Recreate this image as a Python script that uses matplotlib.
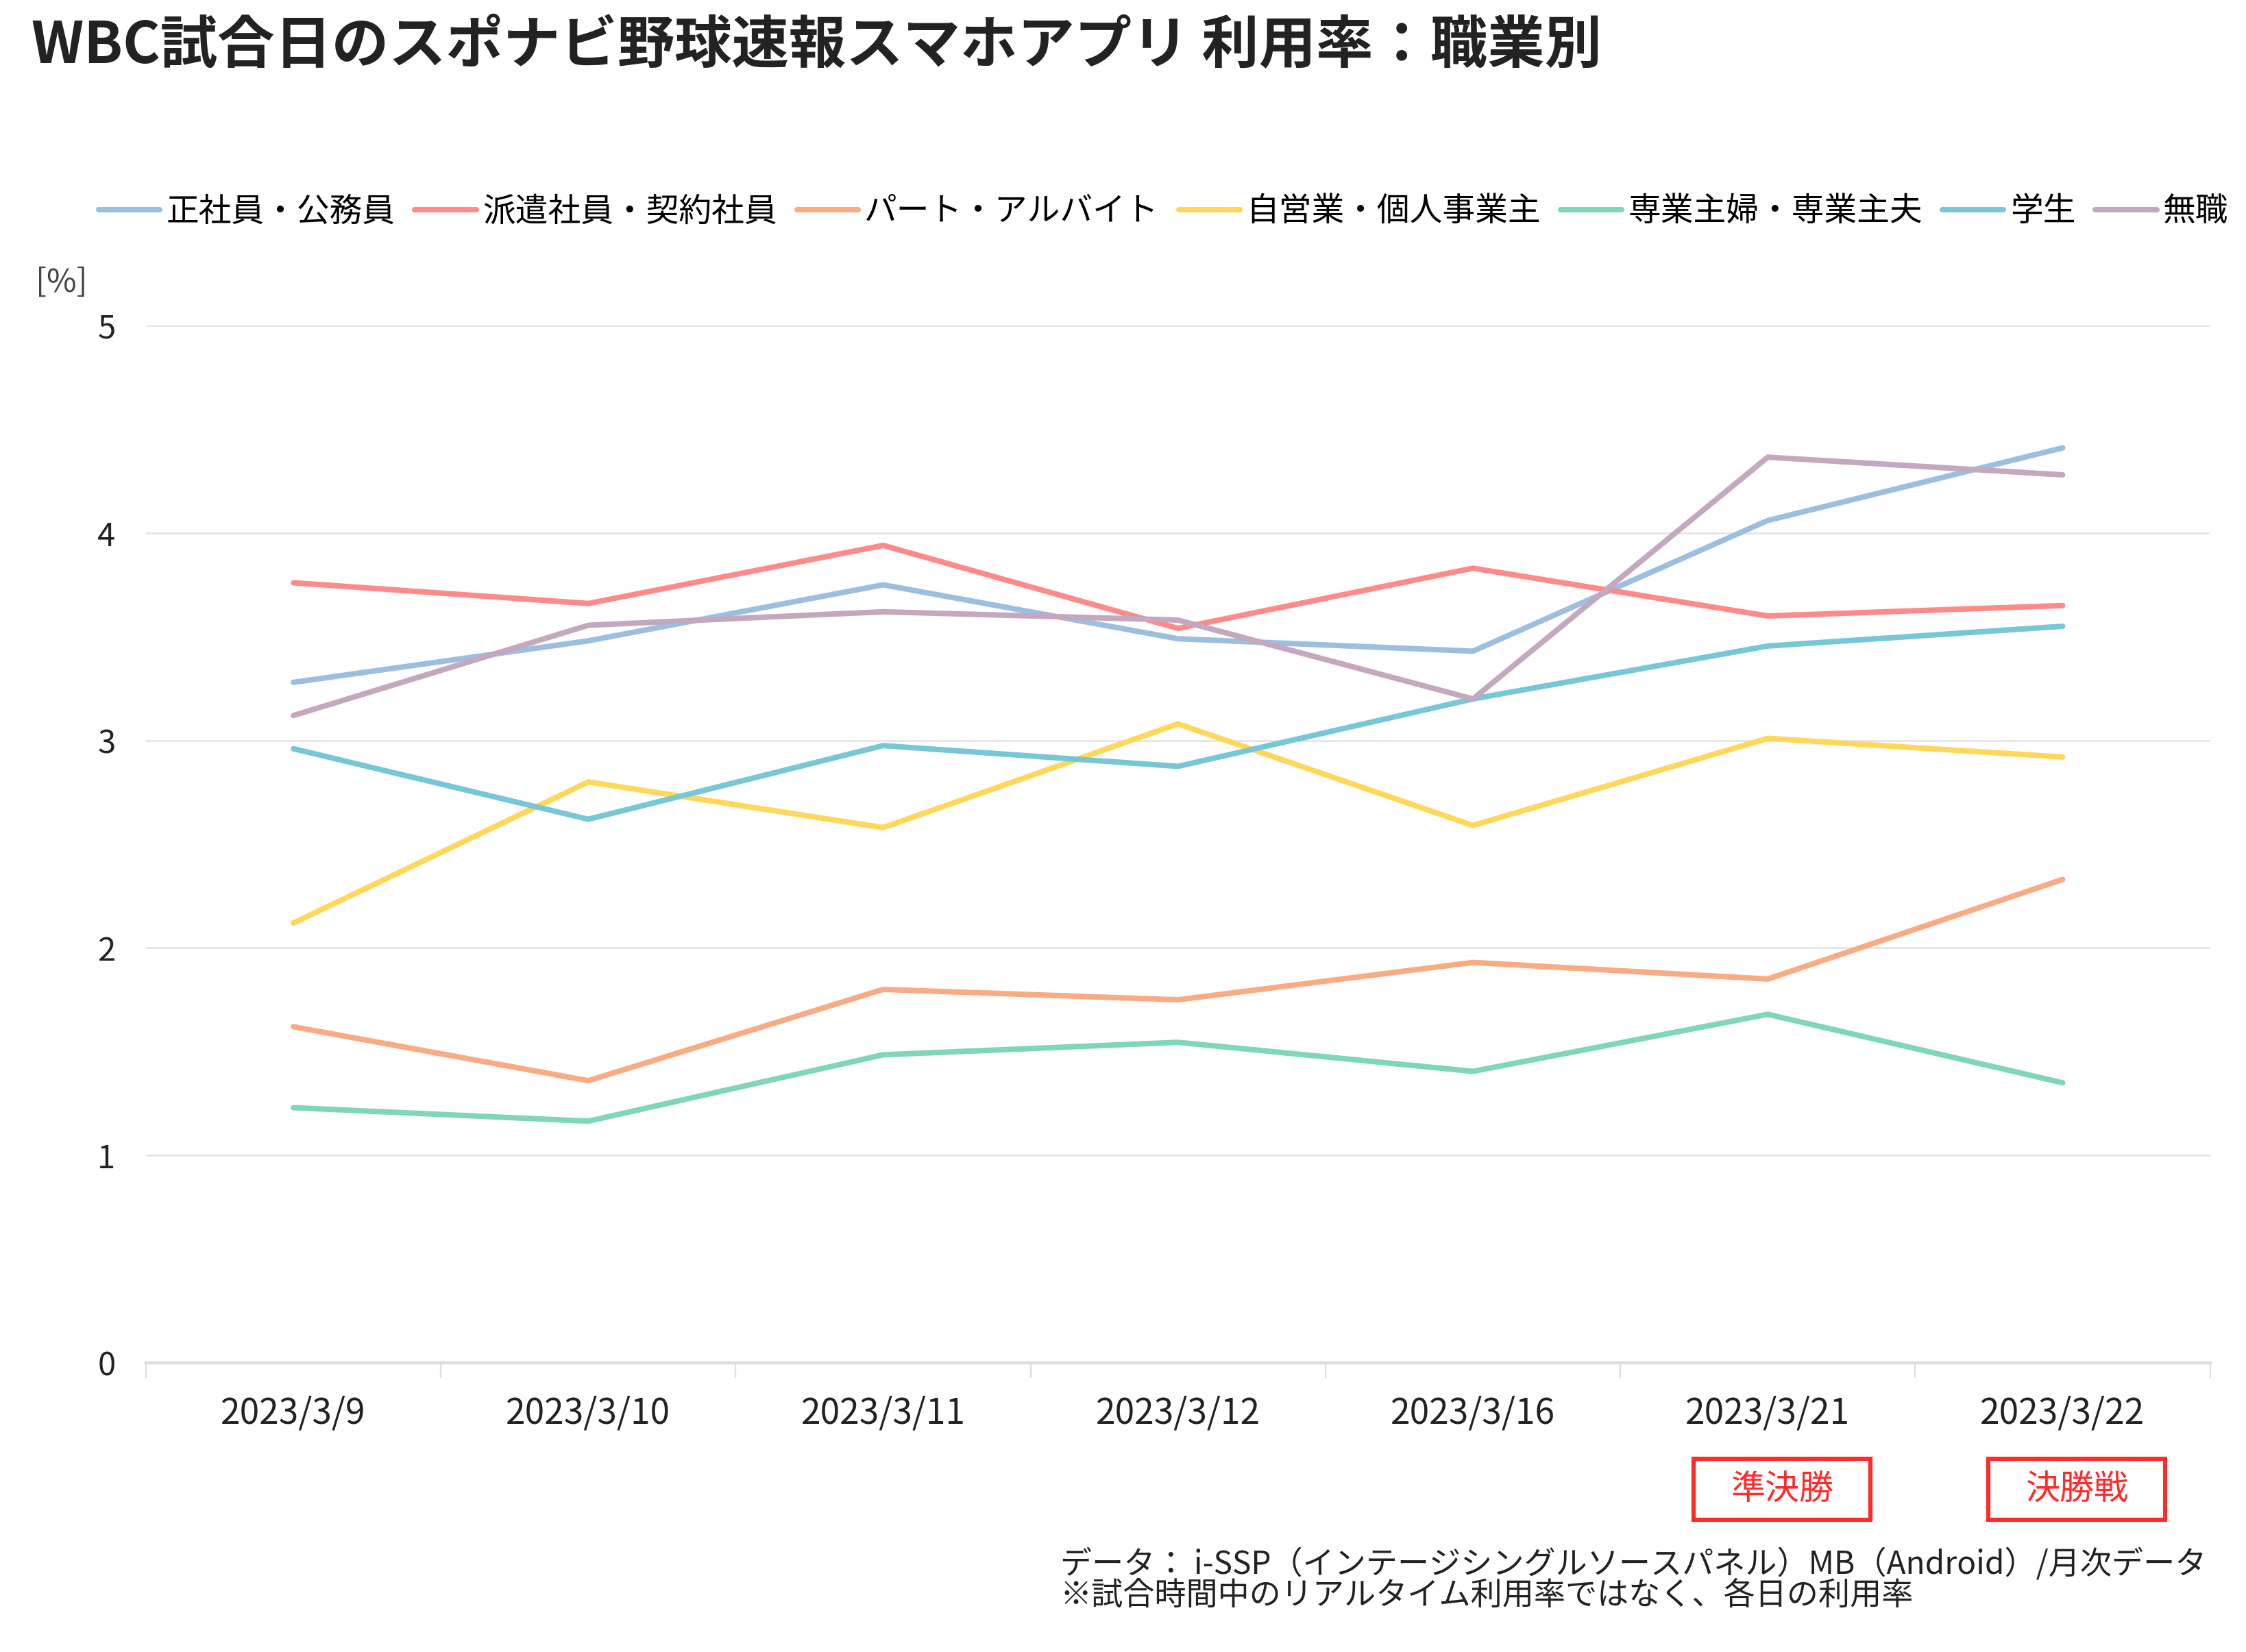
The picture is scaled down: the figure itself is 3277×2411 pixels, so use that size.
import matplotlib
matplotlib.use('Agg')
import matplotlib.pyplot as plt
from matplotlib.patches import Rectangle

plt.rcParams['font.family'] = ['Noto Sans CJK JP', 'DejaVu Sans']

# データ
fechas = ['2023/3/9', '2023/3/10', '2023/3/11', '2023/3/12', '2023/3/16', '2023/3/21', '2023/3/22']

seishain = [3.28, 3.48, 3.75, 3.49, 3.43, 4.06, 4.41]
haken = [3.76, 3.66, 3.94, 3.54, 3.83, 3.60, 3.65]
part = [1.62, 1.36, 1.80, 1.75, 1.93, 1.85, 2.33]
jieigyo = [2.12, 2.80, 2.58, 3.08, 2.59, 3.01, 2.92]
sengyo = [1.23, 1.165, 1.485, 1.545, 1.405, 1.68, 1.35]
gakusei = [2.96, 2.62, 2.975, 2.875, 3.20, 3.455, 3.55]
mushoku = [3.12, 3.555, 3.62, 3.58, 3.20, 4.365, 4.28]

series_names = ['正社員・公務員', '派遣社員・契約社員', 'パート・アルバイト', '自営業・個人事業主',
                '専業主婦・専業主夫', '学生', '無職']
series_values = [seishain, haken, part, jieigyo, sengyo, gakusei, mushoku]
colores = ['#9dbfdf', '#ff8a8a', '#f9ab83', '#ffd75a', '#80d6b8', '#78c7d6', '#c4a8bf']

y_ticks = [0, 1, 2, 3, 4, 5]
marcas = ['準決勝', '決勝戦']
marca_idx = [5, 6]

fig = plt.figure(figsize=(16.385, 12.055), dpi=200)
ax = fig.add_axes([0.065, 0.175, 0.919, 0.628])

x = list(range(len(fechas)))
lineas = []
for nombre, valores, color in zip(series_names, series_values, colores):
    l, = ax.plot(x, valores, color=color, lw=2.9, solid_capstyle='round',
                 solid_joinstyle='round', label=nombre)
    lineas.append(l)

ax.set_xlim(-0.5, len(fechas) - 0.5)
ax.set_ylim(0, 5)
ax.set_yticks(y_ticks)
ax.set_xticks(x)
ax.set_xticklabels(fechas)
ax.set_xticks([i - 0.5 for i in range(len(fechas) + 1)], minor=True)
ax.tick_params(axis='x', which='major', length=0, pad=17, labelsize=18.5, labelcolor='#222222')
ax.tick_params(axis='x', which='minor', length=8, width=0.8, color='#dddddd')
ax.tick_params(axis='y', length=0, pad=16, labelsize=17, labelcolor='#222222')
ax.grid(axis='y', color='#e2e2e2', lw=0.9)
ax.set_axisbelow(True)
for lado in ['left', 'right', 'top']:
    ax.spines[lado].set_visible(False)
ax.spines['bottom'].set_color('#dddddd')
ax.spines['bottom'].set_linewidth(1.6)

# título
fig.text(0.014, 0.972, 'WBC試合日のスポナビ野球速報スマホアプリ 利用率：職業別',
         fontsize=30, fontweight='bold', color='#222222', va='center', ha='left')

# leyenda
fig.legend(handles=lineas, loc='center left', bbox_to_anchor=(0.038, 0.872),
           ncol=7, frameon=False, fontsize=17.2, handlelength=1.87, handletextpad=0.2,
           columnspacing=0.6, borderaxespad=0)

fig.text(0.016, 0.829, '[%]', fontsize=17, color='#444444', va='center', ha='left')

# cajas rojas
for texto, idx in zip(marcas, marca_idx):
    xc = ax.transData.transform((idx, 0))[0] / fig.bbox.width + 0.0063
    w, h = 0.0785, 0.037
    yc = 0.0985
    fig.patches.append(Rectangle((xc - w / 2, yc - h / 2), w, h, transform=fig.transFigure,
                                 fill=False, edgecolor='#ff2a2a', lw=2.2))
    fig.text(xc, yc, texto, fontsize=18, color='#ff2a2a', ha='center', va='center')

fig.text(0.472, 0.0435, 'データ： i-SSP（インテージシングルソースパネル）MB（Android）/月次データ\n'
         '※試合時間中のリアルタイム利用率ではなく、各日の利用率',
         fontsize=16.6, color='#222222', ha='left', va='center', linespacing=0.92)

fig.savefig('out.png', dpi=200)
